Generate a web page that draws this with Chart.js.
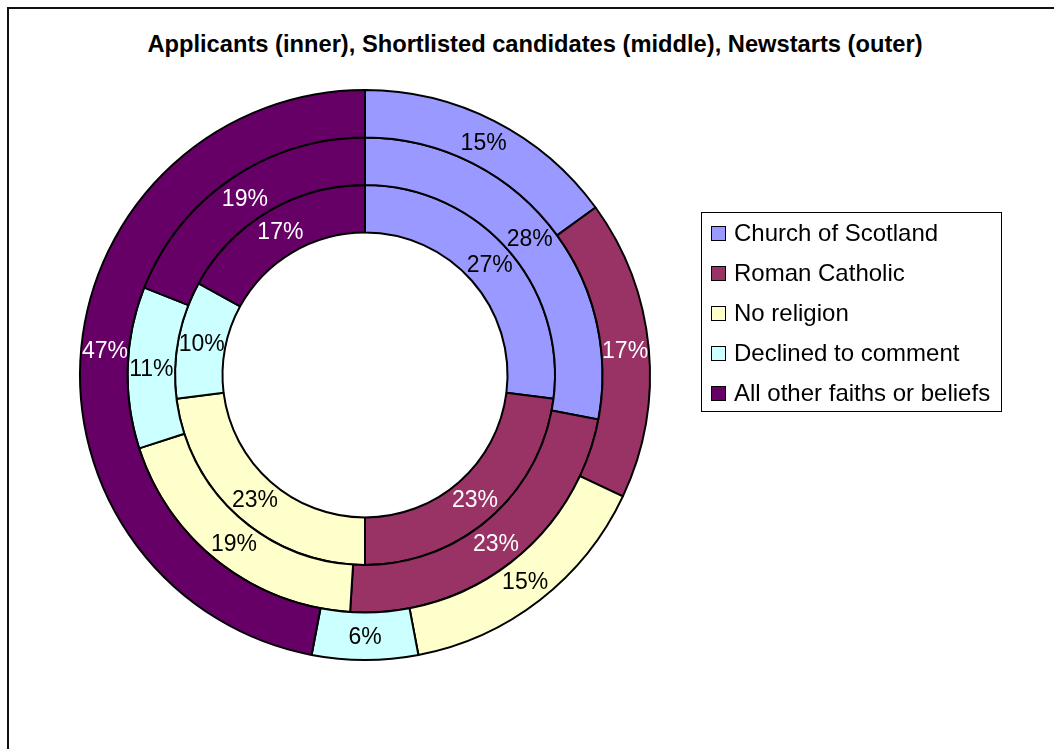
<!DOCTYPE html>
<html>
<head>
<meta charset="utf-8">
<title>Religion breakdown</title>
<script src="https://cdn.jsdelivr.net/npm/chart.js@4.4.1/dist/chart.umd.min.js"></script>
<style>
  html, body { margin: 0; padding: 0; background: #fff; overflow: hidden; }
  body { position: relative; width: 1054px; height: 749px; font-family: "Liberation Sans", Arial, sans-serif; color: #000; }
  #frame { position: absolute; left: 7px; top: 7px; width: 1100px; height: 800px; border: 2px solid #111; box-sizing: border-box; }
  #title { position: absolute; left: 8px; top: 29px; width: 1054px; text-align: center; font-weight: bold; font-size: 23.7px; line-height: 30px; white-space: nowrap; }
  #wrap { position: absolute; left: 0; top: 0; width: 1054px; height: 749px; }
  #legend { position: absolute; left: 701px; top: 212px; width: 301px; height: 200px; border: 1px solid #000; box-sizing: border-box; background: #fff; }
  #legend .row { position: absolute; left: 0; height: 40px; display: flex; align-items: center; font-size: 24px; white-space: nowrap; }
  #legend .sw { width: 13px; height: 13px; border: 1px solid #000; margin: 0 8px 0 9px; }
</style>
</head>
<body>
<div id="frame"></div>
<div id="title">Applicants (inner), Shortlisted candidates (middle), Newstarts (outer)</div>
<div id="wrap"><canvas id="c" width="1054" height="749"></canvas></div>
<div id="legend"></div>
<script>
  const CATEGORIES = ["Church of Scotland", "Roman Catholic", "No religion", "Declined to comment", "All other faiths or beliefs"];
  const COLOURS = ["#9999FF", "#993366", "#FFFFCC", "#CCFFFF", "#660066"];
  const LABEL_COLOURS = ["#000", "#fff", "#000", "#000", "#fff"];

  // percentages per ring, outermost first (Chart.js draws dataset 0 on the outside)
  const NEWSTARTS = [15, 17, 15, 6, 47];
  const SHORTLISTED = [28, 23, 19, 11, 19];
  const APPLICANTS = [27, 23, 23, 10, 17];

  const RINGS = [
    { label: "Newstarts", data: NEWSTARTS },
    { label: "Shortlisted candidates", data: SHORTLISTED },
    { label: "Applicants", data: APPLICANTS }
  ];

  // percentage text in the middle of every slice
  const sliceLabels = {
    id: "sliceLabels",
    afterDatasetsDraw(chart) {
      const ctx = chart.ctx;
      ctx.save();
      ctx.font = '23px "Liberation Sans", Arial, sans-serif';
      ctx.textAlign = "center";
      ctx.textBaseline = "middle";
      chart.data.datasets.forEach((ds, di) => {
        chart.getDatasetMeta(di).data.forEach((arc, i) => {
          const p = arc.tooltipPosition();
          ctx.fillStyle = LABEL_COLOURS[i];
          ctx.fillText(ds.data[i] + "%", p.x, p.y + 1);
        });
      });
      ctx.restore();
    }
  };

  new Chart(document.getElementById("c"), {
    type: "doughnut",
    data: {
      labels: CATEGORIES,
      datasets: RINGS.map((r) => ({
        label: r.label,
        data: r.data,
        backgroundColor: COLOURS,
        borderColor: "#000",
        borderWidth: 2,
        hoverOffset: 0
      }))
    },
    options: {
      responsive: false,
      animation: false,
      cutout: "50%",
      layout: { padding: { left: 79, top: 89, right: 403, bottom: 88 } },
      plugins: {
        legend: { display: false },
        title: { display: false },
        tooltip: { enabled: false }
      },
      events: []
    },
    plugins: [sliceLabels]
  });

  // legend box on the right
  const legend = document.getElementById("legend");
  CATEGORIES.forEach((name, i) => {
    const row = document.createElement("div");
    row.className = "row";
    row.style.top = (i * 40) + "px";
    row.innerHTML = '<span class="sw" style="background:' + COLOURS[i] + '"></span><span>' + name + "</span>";
    legend.appendChild(row);
  });
</script>
</body>
</html>
